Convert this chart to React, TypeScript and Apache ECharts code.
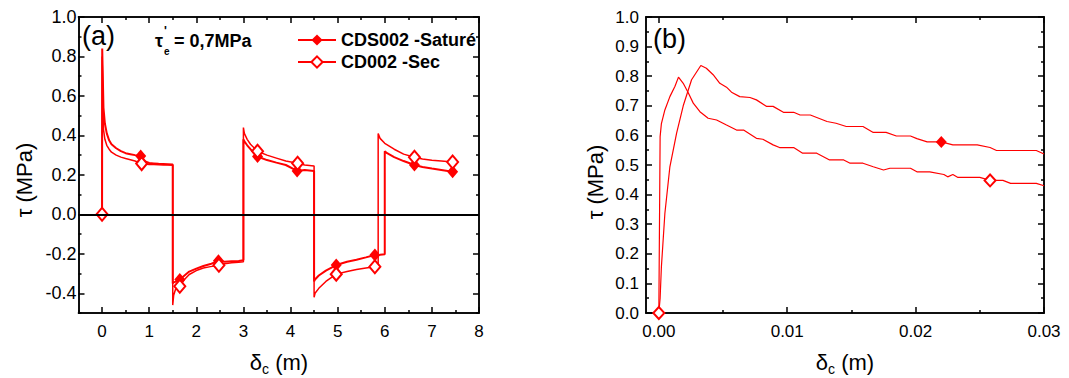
import React, { useEffect, useRef } from 'react';
import * as echarts from 'echarts';

const RED = '#ff0000';
const FONT = '"Liberation Sans", Arial, Helvetica, sans-serif';

// ---------- Panel (a) : full test ----------
const satA_x = [0, 0.0033, 0.03, 0.06, 0.1, 0.15, 0.2, 0.3, 0.4, 0.5, 0.6, 0.7, 0.82, 0.9, 1.0, 1.1, 1.2, 1.3, 1.4, 1.5,
  1.5, 1.52, 1.58, 1.65, 1.75, 1.85, 2.0, 2.15, 2.3, 2.47, 2.6, 2.75, 2.9, 3.0,
  3.0, 3.02, 3.08, 3.15, 3.3, 3.5, 3.7, 3.9, 4.14, 4.3, 4.5,
  4.5, 4.52, 4.6, 4.75, 4.97, 5.2, 5.4, 5.6, 5.79, 5.9, 6.0,
  6.0, 6.05, 6.2, 6.4, 6.63, 6.8, 7.0, 7.2, 7.44, 7.5];
const satA_y = [0, 0.84, 0.54, 0.46, 0.41, 0.375, 0.355, 0.335, 0.32, 0.31, 0.305, 0.30, 0.295, 0.27, 0.26, 0.258, 0.256, 0.255, 0.254, 0.252,
  -0.35, -0.345, -0.34, -0.33, -0.31, -0.29, -0.275, -0.262, -0.252, -0.235, -0.24, -0.238, -0.236, -0.232,
  0.38, 0.37, 0.35, 0.33, 0.293, 0.275, 0.262, 0.25, 0.22, 0.225, 0.22,
  -0.34, -0.33, -0.31, -0.285, -0.257, -0.24, -0.23, -0.218, -0.206, -0.205, -0.202,
  0.32, 0.31, 0.29, 0.27, 0.25, 0.24, 0.232, 0.225, 0.216, 0.215];
const satA_marks = [0, 0.82, 1.65, 2.47, 3.3, 4.14, 4.97, 5.79, 6.63, 7.44];

const secA_x = [0, 0.0015, 0.03, 0.06, 0.1, 0.15, 0.2, 0.3, 0.4, 0.5, 0.6, 0.7, 0.84, 0.9, 1.0, 1.1, 1.2, 1.3, 1.4, 1.5,
  1.5, 1.52, 1.56, 1.65, 1.75, 1.85, 2.0, 2.15, 2.3, 2.48, 2.6, 2.75, 2.9, 3.0,
  3.0, 3.02, 3.08, 3.15, 3.3, 3.5, 3.7, 3.9, 4.15, 4.3, 4.5,
  4.5, 4.52, 4.6, 4.75, 4.97, 5.2, 5.4, 5.6, 5.79, 5.86,
  5.86, 5.9, 6.0, 6.2, 6.4, 6.63, 6.8, 7.0, 7.2, 7.44, 7.5];
const secA_y = [0, 0.80, 0.43, 0.38, 0.35, 0.33, 0.315, 0.30, 0.29, 0.283, 0.277, 0.27, 0.257, 0.255, 0.253, 0.252, 0.251, 0.25, 0.25, 0.249,
  -0.46, -0.41, -0.38, -0.364, -0.33, -0.305, -0.285, -0.272, -0.265, -0.258, -0.25, -0.245, -0.243, -0.24,
  0.44, 0.41, 0.38, 0.355, 0.32, 0.30, 0.285, 0.27, 0.259, 0.25, 0.245,
  -0.42, -0.40, -0.375, -0.34, -0.303, -0.29, -0.28, -0.272, -0.266, -0.265,
  0.41, 0.385, 0.36, 0.33, 0.305, 0.289, 0.28, 0.274, 0.27, 0.265, 0.265];
const secA_marks = [0, 0.84, 1.65, 2.48, 3.3, 4.15, 4.97, 5.79, 6.63, 7.44];

// ---------- Panel (b) : zoom on the start ----------
const satB_x = [0, 0.0001, 0.0002, 0.00047, 0.00086, 0.00138, 0.0019, 0.00255, 0.00327, 0.0037, 0.00423, 0.00475, 0.00527, 0.00566,
  0.0063, 0.0071, 0.0076, 0.0084, 0.0089, 0.0097, 0.0105, 0.011, 0.0118, 0.0131, 0.0138, 0.0146, 0.0159, 0.0167, 0.0177, 0.0185,
  0.0196, 0.0201, 0.0209, 0.022, 0.0229, 0.0248, 0.0258, 0.0263, 0.0294, 0.03];
const satB_y = [0, 0.05, 0.156, 0.336, 0.494, 0.607, 0.70, 0.788, 0.836, 0.827, 0.805, 0.776, 0.763, 0.746,
  0.731, 0.728, 0.72, 0.698, 0.698, 0.678, 0.678, 0.669, 0.669, 0.647, 0.641, 0.63, 0.63, 0.61, 0.61, 0.598,
  0.598, 0.589, 0.578, 0.578, 0.568, 0.568, 0.559, 0.549, 0.549, 0.537];
const satB_marks = [0, 0.022];

const secB_x = [0, 0.00005, 0.0001, 0.0002, 0.00047, 0.00086, 0.00125, 0.00153, 0.0019, 0.0023, 0.00268, 0.0032, 0.00384, 0.0045,
  0.00527, 0.00605, 0.0066, 0.0076, 0.0081, 0.0089, 0.0094, 0.0105, 0.0112, 0.0123, 0.0133, 0.0144, 0.0149, 0.0159, 0.0167,
  0.0175, 0.018, 0.0196, 0.0201, 0.0211, 0.0222, 0.0225, 0.0229, 0.0233, 0.025, 0.0258, 0.0268, 0.0274, 0.0294, 0.03];
const secB_y = [0, 0.3, 0.596, 0.64, 0.686, 0.731, 0.765, 0.797, 0.776, 0.743, 0.709, 0.68, 0.658, 0.652,
  0.635, 0.618, 0.618, 0.59, 0.587, 0.568, 0.559, 0.559, 0.54, 0.54, 0.517, 0.517, 0.506, 0.506, 0.494,
  0.483, 0.489, 0.489, 0.477, 0.477, 0.468, 0.46, 0.468, 0.458, 0.458, 0.448, 0.448, 0.438, 0.438, 0.43];
const secB_marks = [0, 0.0258];

// ---------- tick labels ----------
const aXMajor = [0, 1, 2, 3, 4, 5, 6, 7, 8];
const aXMinor = [-0.5, 0.5, 1.5, 2.5, 3.5, 4.5, 5.5, 6.5, 7.5];
const aYMajor = [-0.4, -0.2, 0, 0.2, 0.4, 0.6, 0.8, 1.0];
const aYMinor = [-0.5, -0.3, -0.1, 0.1, 0.3, 0.5, 0.7, 0.9];
const bXMajor = [0, 0.01, 0.02, 0.03];
const bXMinor = [0.005, 0.015, 0.025];
const bYMajor = [0, 0.1, 0.2, 0.3, 0.4, 0.5, 0.6, 0.7, 0.8, 0.9, 1.0];
const bYMinor = [0.05, 0.15, 0.25, 0.35, 0.45, 0.55, 0.65, 0.75, 0.85, 0.95];

const SERIES_SAT = 'CDS002 -Saturé';
const SERIES_SEC = 'CD002 -Sec';

function buildData(xs: number[], ys: number[], marks: number[]) {
  const used = new Set<number>();
  return xs.map((x, i) => {
    const isMark = marks.includes(x) && !used.has(x);
    if (isMark) used.add(x);
    return isMark ? { value: [x, ys[i]] } : { value: [x, ys[i]], symbol: 'none' };
  });
}

function axes(dim: 'x' | 'y', gridIndex: number, min: number, max: number,
  majors: number[], minors: number[], fmt: (v: number) => string, margin: number, fontSize: number) {
  const [p1, p2] = dim === 'x' ? ['bottom', 'top'] : ['left', 'right'];
  const mk = (pos: string, vals: number[], len: number, label: boolean) => ({
    type: 'value', gridIndex, position: pos, min, max,
    splitLine: { show: false },
    axisLine: { show: true, onZero: false, lineStyle: { color: '#000', width: 1.5 } },
    axisTick: { show: true, inside: true, length: len, customValues: vals, lineStyle: { color: '#000', width: 1.5 } },
    axisLabel: label
      ? { show: true, customValues: majors, formatter: fmt, fontSize, fontFamily: FONT, color: '#000', margin }
      : { show: false },
  });
  return [mk(p1, majors, 6, true), mk(p2, majors, 6, false), mk(p1, minors, 3, false), mk(p2, minors, 3, false)];
}

export default function App() {
  const ref = useRef<HTMLDivElement>(null);
  useEffect(() => {
    document.body.style.margin = '0';
    const chart = echarts.init(ref.current!, undefined, { renderer: 'svg' });
    const titleStyle = { fontSize: 22, fontFamily: FONT, fill: '#000' };
    const xTitleRich = {
      m: { fontSize: 22, fontFamily: FONT, color: '#000' },
      s: { fontSize: 14, fontFamily: FONT, color: '#000', padding: [14, 0, 0, 0] },
    };
    chart.setOption({
      animation: false,
      backgroundColor: '#fff',
      grid: [
        { left: 78.5, top: 17, width: 400.5, height: 296 },
        { left: 646, top: 17, width: 398, height: 296 },
      ],
      xAxis: [
        ...axes('x', 0, -0.5, 8, aXMajor, aXMinor, (v) => String(v), 10, 17),
        ...axes('x', 1, -0.001, 0.03, bXMajor, bXMinor, (v) => v.toFixed(2), 10, 17),
      ],
      yAxis: [
        ...axes('y', 0, -0.5, 1.0, aYMajor, aYMinor, (v) => v.toFixed(1), 2, 18),
        ...axes('y', 1, 0, 1.0, bYMajor, bYMinor, (v) => v.toFixed(1), 7, 17),
      ],
      legend: {
        data: [SERIES_SAT, SERIES_SEC],
        orient: 'vertical', left: 292, top: 26,
        itemWidth: 38, itemHeight: 14, itemGap: 4,
        selectedMode: false,
        textStyle: { fontSize: 18, fontWeight: 'bold', fontFamily: FONT, color: '#000' },
      },
      series: [
        {
          name: SERIES_SAT, type: 'line', xAxisIndex: 0, yAxisIndex: 0,
          data: buildData(satA_x, satA_y, satA_marks),
          symbol: 'diamond', symbolSize: [11, 13], showSymbol: true,
          lineStyle: { color: RED, width: 2 }, itemStyle: { color: RED },
          markLine: {
            silent: true, symbol: ['none', 'none'], label: { show: false },
            lineStyle: { color: '#000', width: 2, type: 'solid' },
            data: [{ yAxis: 0 }],
          },
        },
        {
          name: SERIES_SEC, type: 'line', xAxisIndex: 0, yAxisIndex: 0,
          data: buildData(secA_x, secA_y, secA_marks),
          symbol: 'emptyDiamond', symbolSize: [11, 13], showSymbol: true,
          lineStyle: { color: RED, width: 1.5 }, itemStyle: { color: RED, borderWidth: 1.5 },
        },
        {
          name: 'Saturé (b)', type: 'line', xAxisIndex: 4, yAxisIndex: 4,
          data: buildData(satB_x, satB_y, satB_marks),
          symbol: 'diamond', symbolSize: [11, 12], showSymbol: true,
          lineStyle: { color: RED, width: 1.2 }, itemStyle: { color: RED },
        },
        {
          name: 'Sec (b)', type: 'line', xAxisIndex: 4, yAxisIndex: 4,
          data: buildData(secB_x, secB_y, secB_marks),
          symbol: 'emptyDiamond', symbolSize: [11, 12], showSymbol: true,
          lineStyle: { color: RED, width: 1.2 }, itemStyle: { color: RED, borderWidth: 1.5 },
        },
      ],
      graphic: [
        { type: 'text', left: 82, top: 22, style: { text: '(a)', fontSize: 27, fontFamily: FONT, fill: '#000' } },
        { type: 'text', left: 653, top: 25, style: { text: '(b)', fontSize: 27, fontFamily: FONT, fill: '#000' } },
        // annotation τ'e = 0,7MPa
        { type: 'text', x: 155, y: 41, style: { text: 'τ', fontSize: 18, fontWeight: 'bold', fontFamily: FONT, fill: '#000', verticalAlign: 'middle' } },
        { type: 'text', x: 164, y: 31, style: { text: "'", fontSize: 12, fontWeight: 'bold', fontFamily: FONT, fill: '#000', verticalAlign: 'middle' } },
        { type: 'text', x: 164, y: 51, style: { text: 'e', fontSize: 10, fontWeight: 'bold', fontFamily: FONT, fill: '#000', verticalAlign: 'middle' } },
        { type: 'text', x: 174, y: 41, style: { text: '= 0,7MPa', fontSize: 18, fontWeight: 'bold', fontFamily: FONT, fill: '#000', verticalAlign: 'middle' } },
        // y titles
        { type: 'text', x: 24, y: 180, rotation: Math.PI / 2, style: { ...titleStyle, text: 'τ (MPa)', align: 'center', verticalAlign: 'middle' } },
        { type: 'text', x: 595, y: 182, rotation: Math.PI / 2, style: { ...titleStyle, text: 'τ (MPa)', align: 'center', verticalAlign: 'middle' } },
        // x titles
        { type: 'text', x: 279, y: 362, style: { text: '{m|δ}{s|c}{m| (m)}', rich: xTitleRich, align: 'center', verticalAlign: 'middle' } },
        { type: 'text', x: 845, y: 362, style: { text: '{m|δ}{s|c}{m| (m)}', rich: xTitleRich, align: 'center', verticalAlign: 'middle' } },
      ],
    });
    return () => chart.dispose();
  }, []);
  return <div ref={ref} style={{ width: 1069, height: 378 }} />;
}
